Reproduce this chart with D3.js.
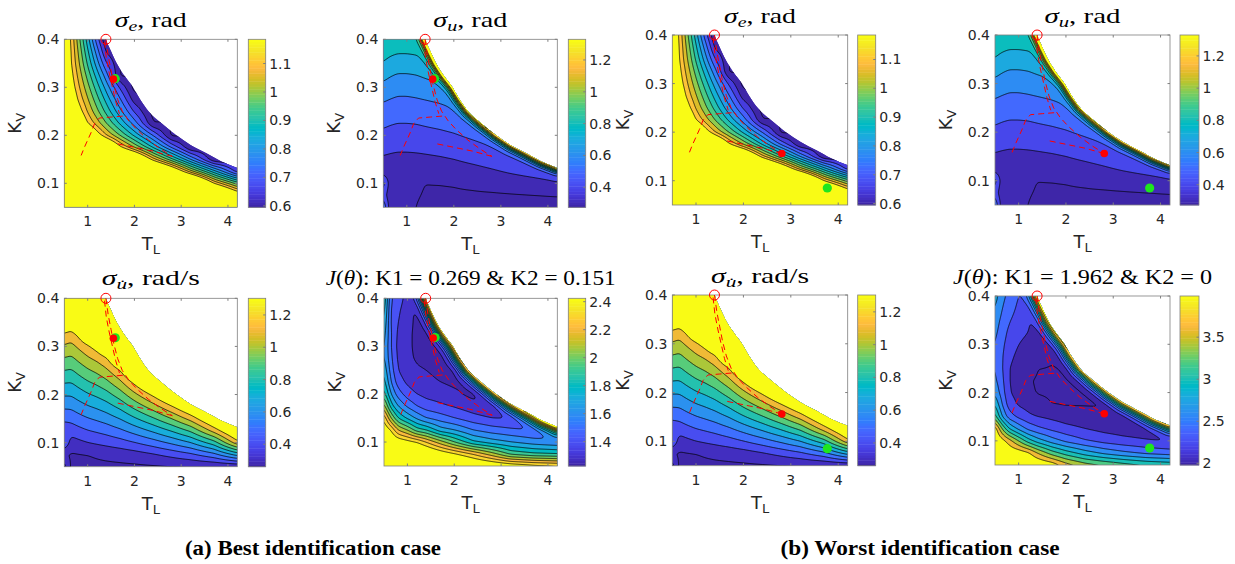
<!DOCTYPE html>
<html><head><meta charset="utf-8">
<script src="https://cdn.jsdelivr.net/npm/d3@7/dist/d3.min.js"></script>
<style>body{margin:0;background:#fff}svg{display:block}</style>
</head><body>
<svg id="fig" width="1235" height="564"></svg>
<script>
// ================= DATA =================
// grid nodes (T_L columns, K_v rows) on which each surface was read off the picture
const TL = [0.5,0.65,0.8,1.0,1.2,1.4,1.7,2.0,2.4,2.8,3.2,3.7,4.2];
const KV = [0.05,0.075,0.1,0.125,0.15,0.175,0.2,0.225,0.25,0.275,0.3,0.325,0.35,0.375,0.4];
const xTicks = [1,2,3,4];
const yTicks = [0.1,0.2,0.3,0.4];
// edge of the feasible (coloured) region; first two points lie above the axes
const boundT = [1.1,1.25,1.39,1.5,1.62,1.78,1.97,2.12,2.3,2.58,2.9,3.2,3.54,3.85,4.2];
const boundK = [0.50,0.45,0.40,0.375,0.35,0.325,0.30,0.275,0.25,0.225,0.20,0.18,0.1625,0.146,0.132];
// steep rise of some surfaces right at that edge (distance in px -> added value)
const edgePx    = [0, 1.5, 3, 5, 8, 12, 16];
const edgeAddU  = [1.1, 0.7, 0.4, 0.18, 0.05, 0, 0];
const edgeAddJa = [1.25, 1.0, 0.75, 0.5, 0.25, 0.06, 0];
const edgeAddJb = [2.1, 1.7, 1.3, 0.9, 0.45, 0.15, 0];

// sigma_e surface (rows K = 0.05 ... 0.4)
const sigmaE = [
 [1.45,1.45,1.45,1.45,1.45,1.45,1.45,1.45,1.45,1.45,1.45,1.45,1.45],
 [1.45,1.45,1.45,1.45,1.45,1.45,1.45,1.45,1.45,1.45,1.45,1.45,1.23],
 [1.45,1.45,1.45,1.45,1.45,1.45,1.45,1.45,1.45,1.45,1.45,1.15,0.98],
 [1.45,1.45,1.45,1.45,1.45,1.45,1.45,1.45,1.45,1.27,1.07,0.87,0.67],
 [1.45,1.45,1.45,1.45,1.45,1.45,1.45,1.35,1.12,0.96,0.795,0.6,0.6],
 [1.45,1.45,1.45,1.45,1.45,1.34,1.16,1.044,0.892,0.74,0.6,0.6,0.6],
 [1.45,1.45,1.43,1.31,1.19,1.10,0.994,0.888,0.747,0.585,0.6,0.6,0.6],
 [1.45,1.36,1.27,1.15,1.075,1.0,0.888,0.776,0.6,0.6,0.6,0.6,0.6],
 [1.37,1.28,1.19,1.094,1.013,0.933,0.812,0.691,0.58,0.6,0.6,0.6,0.6],
 [1.32,1.23,1.141,1.055,0.968,0.881,0.752,0.622,0.6,0.6,0.6,0.6,0.6],
 [1.28,1.19,1.112,1.018,0.924,0.829,0.688,0.58,0.6,0.6,0.6,0.6,0.6],
 [1.26,1.17,1.087,0.981,0.876,0.77,0.59,0.6,0.6,0.6,0.6,0.6,0.6],
 [1.24,1.153,1.063,0.942,0.822,0.702,0.6,0.6,0.6,0.6,0.6,0.6,0.6],
 [1.24,1.147,1.045,0.909,0.774,0.638,0.6,0.6,0.6,0.6,0.6,0.6,0.6],
 [1.23,1.14,1.025,0.873,0.72,0.6,0.6,0.6,0.6,0.6,0.6,0.6,0.6]
];
// sigma_u surface
const sigmaU = [
 [0.6,0.33,0.315,0.31,0.30,0.285,0.285,0.285,0.285,0.285,0.285,0.285,0.285],
 [0.45,0.33,0.315,0.31,0.305,0.295,0.29,0.29,0.29,0.29,0.293,0.297,0.301],
 [0.55,0.34,0.32,0.315,0.31,0.30,0.302,0.305,0.315,0.33,0.345,0.365,0.39],
 [0.34,0.334,0.33,0.33,0.332,0.336,0.342,0.35,0.366,0.388,0.412,0.438,0.462],
 [0.385,0.376,0.37,0.37,0.373,0.379,0.388,0.40,0.423,0.445,0.469,0.498,0.49],
 [0.434,0.426,0.42,0.42,0.423,0.428,0.437,0.448,0.47,0.495,0.524,0.53,0.52],
 [0.476,0.466,0.46,0.46,0.463,0.47,0.479,0.492,0.518,0.548,0.55,0.56,0.55],
 [0.518,0.507,0.5,0.5,0.503,0.511,0.522,0.536,0.571,0.58,0.58,0.59,0.58],
 [0.565,0.55,0.54,0.54,0.545,0.555,0.57,0.59,0.61,0.62,0.61,0.62,0.61],
 [0.612,0.599,0.59,0.59,0.595,0.603,0.616,0.636,0.65,0.66,0.64,0.65,0.64],
 [0.666,0.644,0.63,0.63,0.637,0.652,0.673,0.68,0.69,0.7,0.67,0.68,0.67],
 [0.735,0.708,0.69,0.69,0.698,0.718,0.745,0.72,0.73,0.74,0.7,0.71,0.7],
 [0.795,0.774,0.76,0.76,0.767,0.781,0.78,0.76,0.77,0.78,0.73,0.74,0.73],
 [0.833,0.819,0.81,0.81,0.815,0.823,0.81,0.8,0.81,0.82,0.76,0.77,0.76],
 [0.864,0.85,0.84,0.84,0.845,0.85,0.84,0.84,0.85,0.86,0.79,0.8,0.79]
];
// sigma_u-dot surface
const sigmaUd = [
 [0.45,0.27,0.27,0.275,0.278,0.28,0.282,0.284,0.288,0.292,0.295,0.298,0.30],
 [0.30,0.29,0.295,0.30,0.312,0.322,0.335,0.352,0.387,0.43,0.476,0.565,0.733],
 [0.50,0.354,0.374,0.398,0.414,0.43,0.458,0.496,0.553,0.62,0.697,0.854,1.165],
 [0.431,0.443,0.467,0.496,0.516,0.538,0.582,0.64,0.72,0.811,0.918,1.142,1.384],
 [0.525,0.532,0.56,0.593,0.618,0.646,0.705,0.785,0.887,1.002,1.138,1.36,1.5],
 [0.619,0.621,0.653,0.691,0.719,0.754,0.829,0.929,1.053,1.192,1.344,1.5,1.5],
 [0.712,0.711,0.746,0.789,0.821,0.862,0.953,1.073,1.224,1.392,1.5,1.5,1.5],
 [0.806,0.80,0.839,0.887,0.923,0.971,1.076,1.224,1.424,1.5,1.5,1.5,1.5],
 [0.90,0.889,0.932,0.985,1.025,1.079,1.2,1.424,1.5,1.5,1.5,1.5,1.5],
 [0.994,0.979,1.025,1.083,1.127,1.187,1.4,1.5,1.5,1.5,1.5,1.5,1.5],
 [1.087,1.068,1.118,1.18,1.256,1.376,1.5,1.5,1.5,1.5,1.5,1.5,1.5],
 [1.181,1.157,1.224,1.36,1.456,1.5,1.5,1.5,1.5,1.5,1.5,1.5,1.5],
 [1.36,1.30,1.424,1.5,1.5,1.5,1.5,1.5,1.5,1.5,1.5,1.5,1.5],
 [1.5,1.5,1.5,1.5,1.5,1.5,1.5,1.5,1.5,1.5,1.5,1.5,1.5],
 [1.5,1.5,1.5,1.5,1.5,1.5,1.5,1.5,1.5,1.5,1.5,1.5,1.5]
];
// J(theta), best case (K1 = 0.269, K2 = 0.151)
const Jbest = [
 [2.8,2.8,2.8,2.8,2.75,2.75,2.7,2.7,2.6,2.55,2.5,2.45,2.42],
 [2.7,2.7,2.65,2.65,2.65,2.6,2.5,2.42,2.3,2.15,1.98,1.92,1.9],
 [2.6,2.55,2.5,2.45,2.4,2.3,2.15,2.0,1.82,1.75,1.7,1.65,1.62],
 [2.5,2.4,2.2,2.1,1.95,1.9,1.75,1.7,1.6,1.55,1.52,1.49,1.5],
 [2.38,2.1,1.9,1.78,1.68,1.6,1.55,1.5,1.44,1.4,1.39,1.42,1.5],
 [2.15,1.85,1.7,1.58,1.5,1.45,1.42,1.39,1.34,1.3,1.31,1.43,1.5],
 [1.95,1.7,1.55,1.45,1.4,1.37,1.35,1.32,1.27,1.27,1.32,1.43,1.5],
 [1.85,1.6,1.45,1.38,1.34,1.32,1.3,1.28,1.28,1.28,1.32,1.43,1.5],
 [1.78,1.55,1.4,1.34,1.31,1.3,1.28,1.26,1.3,1.28,1.32,1.43,1.5],
 [1.72,1.52,1.38,1.32,1.29,1.28,1.27,1.3,1.3,1.28,1.32,1.43,1.5],
 [1.72,1.5,1.37,1.32,1.28,1.27,1.28,1.32,1.3,1.28,1.32,1.43,1.5],
 [1.75,1.5,1.38,1.32,1.28,1.27,1.33,1.34,1.3,1.28,1.32,1.43,1.5],
 [1.8,1.48,1.4,1.33,1.28,1.28,1.36,1.36,1.3,1.28,1.32,1.43,1.5],
 [1.85,1.48,1.42,1.34,1.28,1.3,1.38,1.38,1.3,1.28,1.32,1.43,1.5],
 [1.9,1.5,1.45,1.36,1.29,1.32,1.4,1.4,1.3,1.28,1.32,1.43,1.5]
];
// J(theta), worst case (K1 = 1.962, K2 = 0)
const Jworst = [
 [4.2,4.2,4.2,4.2,4.1,4.05,3.95,3.7,3.5,3.4,3.3,3.2,3.15],
 [4.1,4.05,4.0,3.95,3.85,3.6,3.3,3.1,2.9,2.75,2.65,2.55,2.5],
 [4.05,3.9,3.7,3.4,3.1,2.9,2.7,2.55,2.42,2.33,2.27,2.22,2.18],
 [3.95,3.4,3.0,2.75,2.55,2.45,2.35,2.27,2.2,2.14,2.1,2.07,2.08],
 [3.3,2.8,2.5,2.35,2.25,2.2,2.15,2.1,2.07,2.04,2.02,2.05,2.1],
 [3.0,2.6,2.3,2.18,2.12,2.03,2.0,1.99,1.99,1.99,2.02,2.08,2.1],
 [2.75,2.5,2.22,2.12,2.02,1.995,1.99,1.99,1.99,2.0,2.05,2.08,2.1],
 [2.65,2.45,2.2,2.1,2.01,1.99,1.99,1.99,2.0,2.05,2.05,2.08,2.1],
 [2.6,2.42,2.2,2.12,2.06,2.0,1.995,2.0,2.06,2.05,2.05,2.08,2.1],
 [2.6,2.42,2.25,2.15,2.1,2.06,2.01,2.06,2.06,2.05,2.05,2.08,2.1],
 [2.6,2.45,2.3,2.2,2.15,2.1,2.07,2.1,2.06,2.05,2.05,2.08,2.1],
 [2.65,2.5,2.35,2.25,2.2,2.13,2.12,2.1,2.06,2.05,2.05,2.08,2.1],
 [2.7,2.55,2.42,2.3,2.22,2.15,2.15,2.1,2.06,2.05,2.05,2.08,2.1],
 [2.8,2.6,2.5,2.35,2.25,2.2,2.15,2.1,2.06,2.05,2.05,2.08,2.1],
 [2.9,2.65,2.55,2.4,2.3,2.25,2.15,2.1,2.06,2.05,2.05,2.08,2.1]
];

// contour levels, colour-axis ranges and colourbar ticks
const levelsE  = [0.6,0.65,0.7,0.75,0.8,0.85,0.9,0.95,1.0,1.05,1.1,1.15];
const levelsU  = [0.3,0.4,0.5,0.6,0.7,0.8,0.9,1.0,1.1,1.2,1.3];
const levelsUd = [0.3,0.4,0.5,0.6,0.7,0.8,0.9,1.0,1.1,1.2];
const levelsJa = [1.3,1.4,1.5,1.6,1.7,1.8,1.9,2.0,2.1,2.2,2.3,2.4];
const levelsJb = [2.0,2.2,2.4,2.6,2.8,3.0,3.2,3.4,3.6,3.8];
const rangeE = [0.595,1.185], rangeU = [0.274,1.33], rangeUd = [0.261,1.303], rangeJa = [1.226,2.424], rangeJb = [1.98,3.99];
const ticksE = [0.6,0.7,0.8,0.9,1,1.1], ticksU = [0.4,0.6,0.8,1,1.2], ticksUd = [0.4,0.6,0.8,1,1.2];
const ticksJa = [1.4,1.6,1.8,2,2.2,2.4], ticksJb = [2,2.5,3,3.5];

// identification trajectory (NaN separates pieces) and markers
const trajT = [1.39,1.44,1.50,1.56,1.64,1.74,1.88,2.05,2.30,2.55,2.81,NaN,1.36,1.40,1.46,1.53,1.60,1.68,NaN,1.75,1.50,1.25,1.15,1.07,1.00,0.93,0.86,NaN,2.81,2.40,2.00,1.60];
const trajK = [0.400,0.365,0.335,0.305,0.275,0.250,0.230,0.212,0.190,0.172,0.156,NaN,0.395,0.360,0.330,0.300,0.270,0.245,NaN,0.240,0.238,0.236,0.225,0.205,0.190,0.175,0.158,NaN,0.156,0.167,0.175,0.183];
const startPt = [1.39,0.40];
const estA = [1.55,0.317], trueA = [1.59,0.318];
const estB = [2.81,0.156], trueB = [3.77,0.085];
const captions = ["(a) Best identification case","(b) Worst identification case"];

// MATLAB parula(64)
const parula = [[0.2422,0.1504,0.6603],[0.2504,0.1650,0.7076],[0.2578,0.1818,0.7511],[0.2647,0.1978,0.7952],[0.2706,0.2147,0.8364],[0.2751,0.2342,0.8710],[0.2783,0.2559,0.8991],[0.2803,0.2782,0.9221],[0.2813,0.3006,0.9414],[0.2810,0.3228,0.9579],[0.2795,0.3447,0.9717],[0.2760,0.3667,0.9829],[0.2699,0.3892,0.9906],[0.2602,0.4123,0.9952],[0.2440,0.4358,0.9988],[0.2206,0.4603,0.9973],[0.1963,0.4847,0.9892],[0.1834,0.5074,0.9798],[0.1786,0.5289,0.9682],[0.1764,0.5499,0.9520],[0.1687,0.5703,0.9359],[0.1540,0.5902,0.9218],[0.1460,0.6091,0.9079],[0.1380,0.6276,0.8973],[0.1248,0.6459,0.8883],[0.1113,0.6635,0.8763],[0.0952,0.6798,0.8598],[0.0689,0.6948,0.8394],[0.0297,0.7082,0.8163],[0.0036,0.7203,0.7917],[0.0067,0.7312,0.7660],[0.0433,0.7411,0.7394],[0.0964,0.7500,0.7120],[0.1408,0.7584,0.6842],[0.1717,0.7670,0.6554],[0.1938,0.7758,0.6251],[0.2161,0.7843,0.5923],[0.2470,0.7918,0.5567],[0.2906,0.7973,0.5188],[0.3406,0.8008,0.4789],[0.3909,0.8029,0.4354],[0.4456,0.8024,0.3909],[0.5044,0.7993,0.3480],[0.5616,0.7942,0.3045],[0.6174,0.7876,0.2612],[0.6720,0.7793,0.2227],[0.7242,0.7698,0.1910],[0.7738,0.7598,0.1646],[0.8203,0.7498,0.1535],[0.8634,0.7406,0.1596],[0.9035,0.7330,0.1774],[0.9393,0.7288,0.2100],[0.9728,0.7298,0.2394],[0.9956,0.7434,0.2371],[0.9970,0.7659,0.2199],[0.9952,0.7893,0.2028],[0.9892,0.8136,0.1885],[0.9786,0.8386,0.1766],[0.9676,0.8639,0.1643],[0.9610,0.8890,0.1537],[0.9597,0.9135,0.1423],[0.9628,0.9373,0.1265],[0.9691,0.9606,0.1064],[0.9769,0.9839,0.0805]];

// ================= DRAWING =================
const fields = {
  se: {grid: sigmaE, levels: levelsE, range: rangeE, ticks: ticksE, edge: null},
  su: {grid: sigmaU, levels: levelsU, range: rangeU, ticks: ticksU, edge: edgeAddU},
  sd: {grid: sigmaUd, levels: levelsUd, range: rangeUd, ticks: ticksUd, edge: null},
  ja: {grid: Jbest, levels: levelsJa, range: rangeJa, ticks: ticksJa, edge: edgeAddJa},
  jb: {grid: Jworst, levels: levelsJb, range: rangeJb, ticks: ticksJb, edge: edgeAddJb}
};
const panels = [
 {f:'se', l:64.3, r:237.3, t:39.3, b:207.3, cl:248.3, cr:265.7, ty:26.5, tw:72, title:['σ','e',', rad'], est:estA, tru:trueA},
 {f:'su', l:383.3, r:557.3, t:39.3, b:207.3, cl:568.3, cr:585.7, ty:26.5, tw:74, title:['σ','u',', rad'], est:estA, tru:trueA},
 {f:'se', l:672.3, r:847.7, t:35, b:205, cl:857.7, cr:875.7, ty:22.7, tw:72, title:['σ','e',', rad'], est:estB, tru:trueB},
 {f:'su', l:995, r:1170, t:35, b:205, cl:1180, cr:1199, ty:22.7, tw:76, title:['σ','u',', rad'], est:estB, tru:trueB},
 {f:'sd', l:64.3, r:237.3, t:298.3, b:466.7, cl:248.3, cr:265.7, ty:285, tw:98, title:['σ','u\u0307',', rad/s'], est:estA, tru:trueA},
 {f:'ja', l:384, r:557.3, t:298.3, b:466, cl:568.3, cr:585.7, ty:284.5, tw:290, jt:'0.269 & K2 = 0.151', est:estA, tru:trueA},
 {f:'sd', l:672.3, r:847.7, t:295, b:465.7, cl:857.7, cr:875.7, ty:283, tw:98, title:['σ','u\u0307',', rad/s'], est:estB, tru:trueB},
 {f:'jb', l:995, r:1170, t:296, b:465, cl:1180, cr:1199, ty:284, tw:259, jt:'1.962 & K2 = 0', est:estB, tru:trueB}
];

const svg = d3.select('#fig');
svg.append('rect').attr('width',1235).attr('height',564).attr('fill','#fff');
const defs = svg.append('defs');
const rgb = c => d3.rgb(c[0]*255, c[1]*255, c[2]*255).formatHex();
function cmap(v, rng){ let i = Math.floor((v-rng[0])/(rng[1]-rng[0])*64); i = Math.max(0, Math.min(63, i)); return rgb(parula[i]); }
function sampleGrid(g, T, K){
  const i = Math.max(0, Math.min(TL.length-2, d3.bisectRight(TL, T)-1));
  const j = Math.max(0, Math.min(KV.length-2, d3.bisectRight(KV, K)-1));
  const tx = Math.max(0, Math.min(1, (T-TL[i])/(TL[i+1]-TL[i])));
  const ty = Math.max(0, Math.min(1, (K-KV[j])/(KV[j+1]-KV[j])));
  return (g[j][i]*(1-tx)+g[j][i+1]*tx)*(1-ty) + (g[j+1][i]*(1-tx)+g[j+1][i+1]*tx)*ty;
}
function segDist(px,py,a,b){
  const dx=b[0]-a[0], dy=b[1]-a[1];
  let t=((px-a[0])*dx+(py-a[1])*dy)/(dx*dx+dy*dy); t=Math.max(0,Math.min(1,t));
  const ex=a[0]+t*dx-px, ey=a[1]+t*dy-py; return Math.sqrt(ex*ex+ey*ey);
}
const AX = '#7f7f7f', TXT = '#262626';
const sans = "'DejaVu Sans', 'Liberation Sans', sans-serif";
const serif = "'Liberation Serif', 'DejaVu Serif', serif";

panels.forEach((p, pi) => {
  const F = fields[p.f];
  const x = d3.scaleLinear().domain([0.5,4.2]).range([p.l, p.r]);
  const y = d3.scaleLinear().domain([0.05,0.4]).range([p.b, p.t]);
  const bpx = boundT.map((t,k)=>[x(t), y(boundK[k])]);
  const edgeScale = F.edge ? d3.scaleLinear().domain(edgePx).range(F.edge).clamp(true) : null;
  const pad = 3;
  const nx = Math.ceil(p.r-p.l) + 2*pad, ny = Math.ceil(p.b-p.t) + 2*pad;
  const vals = new Float64Array(nx*ny);
  for (let j=0;j<ny;j++){
    const py = p.t - pad + j + 0.5, K = y.invert(py);
    for (let i=0;i<nx;i++){
      const px = p.l - pad + i + 0.5, T = x.invert(px);
      let v = sampleGrid(F.grid, T, K);
      if (edgeScale){
        let d = Infinity;
        for (let s=0;s<bpx.length-1;s++) d = Math.min(d, segDist(px,py,bpx[s],bpx[s+1]));
        v += edgeScale(d);
      }
      vals[j*nx+i] = v;
    }
  }
  if (d3.blur2) d3.blur2({data: vals, width: nx, height: ny}, 1.2);
  const contours = d3.contours().size([nx, ny]).thresholds(F.levels)(vals);
  const nL = F.levels.length;

  // clip = plot rect  ∩  feasible region
  const bline = d3.line().curve(d3.curveMonotoneX);
  const bd = bline(bpx);
  const clipD = `M${p.l},${p.b}L${p.l},${bpx[0][1]}` + bd.replace(/^M/,'L') + `L${p.r},${p.b}Z`;
  defs.append('clipPath').attr('id','fc'+pi).append('path').attr('d', clipD);
  defs.append('clipPath').attr('id','pc'+pi).append('rect')
      .attr('x',p.l).attr('y',p.t).attr('width',p.r-p.l).attr('height',p.b-p.t);

  const g = svg.append('g').attr('clip-path',`url(#pc${pi})`).append('g').attr('clip-path',`url(#fc${pi})`);
  g.append('rect').attr('x',p.l).attr('y',p.t).attr('width',p.r-p.l).attr('height',p.b-p.t)
    .attr('fill', cmap(F.range[0], F.range));
  const gp = d3.geoPath();
  const inner = g.append('g').attr('transform',`translate(${p.l-pad},${p.t-pad})`);
  inner.selectAll('path.f').data(contours).join('path').attr('class','f')
    .attr('d', gp).attr('fill', (d,k)=> k===nL-1 ? rgb(parula[63]) : cmap(d.value, F.range)).attr('stroke','none');
  inner.selectAll('path.l').data(contours).join('path').attr('class','l')
    .attr('d', gp).attr('fill','none').attr('stroke','#000').attr('stroke-width',0.75);

  // axes box & ticks
  const ax = svg.append('g');
  ax.append('rect').attr('x',p.l).attr('y',p.t).attr('width',p.r-p.l).attr('height',p.b-p.t)
    .attr('fill','none').attr('stroke',AX).attr('stroke-width',0.8);
  xTicks.forEach(v=>{
    ax.append('line').attr('x1',x(v)).attr('x2',x(v)).attr('y1',p.b).attr('y2',p.b-2.5).attr('stroke',AX);
    ax.append('line').attr('x1',x(v)).attr('x2',x(v)).attr('y1',p.t).attr('y2',p.t+2.5).attr('stroke',AX);
    ax.append('text').attr('x',x(v)).attr('y',p.b+19).attr('text-anchor','middle')
      .attr('font-family',sans).attr('font-size',14).attr('fill',TXT).text(v);
  });
  yTicks.forEach(v=>{
    ax.append('line').attr('x1',p.l).attr('x2',p.l+2.5).attr('y1',y(v)).attr('y2',y(v)).attr('stroke',AX);
    ax.append('line').attr('x1',p.r).attr('x2',p.r-2.5).attr('y1',y(v)).attr('y2',y(v)).attr('stroke',AX);
    ax.append('text').attr('x',p.l-5).attr('y',y(v)+5).attr('text-anchor','end')
      .attr('font-family',sans).attr('font-size',14).attr('fill',TXT).text(v);
  });
  // axis labels
  const xl = ax.append('text').attr('x',(p.l+p.r)/2).attr('y',p.b+43).attr('text-anchor','middle')
    .attr('font-family',sans).attr('font-size',18).attr('fill',TXT);
  xl.append('tspan').text('T'); xl.append('tspan').attr('font-size',13).attr('dy',4).text('L');
  const yl = ax.append('text').attr('transform',`translate(${p.l-43},${(p.t+p.b)/2}) rotate(-90)`)
    .attr('text-anchor','middle').attr('font-family',sans).attr('font-size',18).attr('fill',TXT);
  yl.append('tspan').text('K'); yl.append('tspan').attr('font-size',13).attr('dy',4).text('V');

  // title
  const tt = ax.append('text').attr('x',(p.l+p.r)/2).attr('y',p.ty).attr('text-anchor','middle')
    .attr('font-family',serif).attr('font-size',21).attr('fill','#000')
    .attr('textLength',p.tw).attr('lengthAdjust','spacingAndGlyphs');
  if (p.title){
    tt.append('tspan').attr('font-style','italic').text(p.title[0]);
    tt.append('tspan').attr('font-style','italic').attr('font-size',15).attr('dy',4).text(p.title[1]);
    tt.append('tspan').attr('dy',-4).text(p.title[2]);
  } else {
    tt.append('tspan').attr('font-style','italic').text('J');
    tt.append('tspan').text('(');
    tt.append('tspan').attr('font-style','italic').text('θ');
    tt.append('tspan').text('): K1 = ' + p.jt);
  }

  // trajectory and markers
  const mk = svg.append('g');
  const tline = d3.line().defined(d=>!isNaN(d[0])).x(d=>x(d[0])).y(d=>y(d[1]));
  mk.append('path').attr('d', tline(trajT.map((t,k)=>[t,trajK[k]])))
    .attr('fill','none').attr('stroke','#ff0000').attr('stroke-width',1).attr('stroke-dasharray','6,4');
  mk.append('circle').attr('cx',x(startPt[0])).attr('cy',y(startPt[1])).attr('r',5)
    .attr('fill','none').attr('stroke','#ff0000').attr('stroke-width',1);
  mk.append('circle').attr('cx',x(p.tru[0])).attr('cy',y(p.tru[1])).attr('r',4.6).attr('fill','#1ee61e');
  mk.append('circle').attr('cx',x(p.est[0])).attr('cy',y(p.est[1])).attr('r',3.8).attr('fill','#ff0000');

  // colorbar
  const yc = d3.scaleLinear().domain(F.range).range([p.b, p.t]);
  const cb = svg.append('g');
  d3.range(64).forEach(i=>{
    const v0 = F.range[0] + i*(F.range[1]-F.range[0])/64, v1 = F.range[0] + (i+1)*(F.range[1]-F.range[0])/64;
    cb.append('rect').attr('x',p.cl).attr('width',p.cr-p.cl).attr('y',yc(v1)).attr('height',yc(v0)-yc(v1)+0.4)
      .attr('fill',rgb(parula[i]));
  });
  cb.append('rect').attr('x',p.cl).attr('y',p.t).attr('width',p.cr-p.cl).attr('height',p.b-p.t)
    .attr('fill','none').attr('stroke',AX).attr('stroke-width',0.8);
  F.ticks.forEach(v=>{
    cb.append('line').attr('x1',p.cr).attr('x2',p.cr-2.5).attr('y1',yc(v)).attr('y2',yc(v)).attr('stroke',AX);
    cb.append('text').attr('x',p.cr+3.5).attr('y',yc(v)+5).attr('font-family',sans).attr('font-size',14)
      .attr('fill',TXT).text(v);
  });
});

// captions
[[313, captions[0], 256],[920, captions[1], 279]].forEach(c=>{
  svg.append('text').attr('x',c[0]).attr('y',555).attr('text-anchor','middle')
    .attr('font-family',serif).attr('font-weight','bold').attr('font-size',20).attr('fill','#000')
    .attr('textLength',c[2]).attr('lengthAdjust','spacingAndGlyphs').text(c[1]);
});
</script>
</body></html>
